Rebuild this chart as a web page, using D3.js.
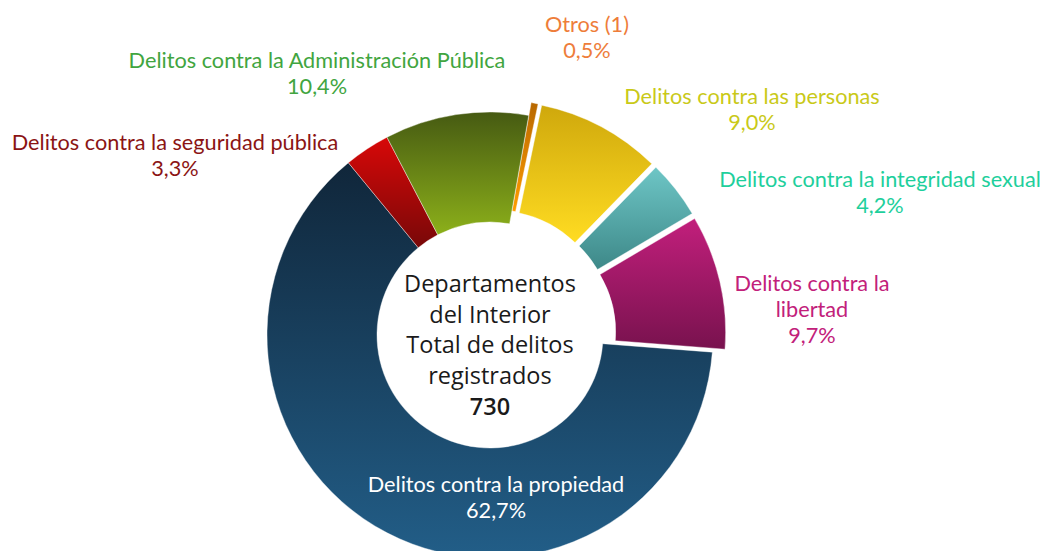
<!DOCTYPE html>
<html>
<head>
<meta charset="utf-8">
<script src="https://d3js.org/d3.v7.min.js"></script>
<style>
  body { margin: 0; background: #fff; }
  .lbl { font-family: Lato, "Noto Sans", sans-serif; font-size: 21.7px; text-anchor: middle; }
  .center { font-family: "Open Sans", "Noto Sans", sans-serif; font-size: 23.5px; text-anchor: middle; fill: #1a1a1a; }
</style>
</head>
<body>
<svg id="chart" width="1045" height="551"></svg>
<script>
// data
var categories = ["Otros (1)", "Delitos contra las personas", "Delitos contra la integridad sexual",
  "Delitos contra la libertad", "Delitos contra la propiedad", "Delitos contra la seguridad pública",
  "Delitos contra la Administración Pública"];
var percents = [0.5, 9.0, 4.2, 9.7, 62.7, 3.3, 10.4];
var total = 730;
var centerLines = ["Departamentos", "del Interior", "Total de delitos", "registrados"];

var svg = d3.select("#chart");
var cx = 490, cy = 335, rIn = 113, rOut = 223;
var startDeg = 10;

// gradient colours (top, bottom) per slice
var grad = [
  ["#b86800", "#ff9c00"],
  ["#cfa80c", "#ffdc22"],
  ["#6ec6c6", "#3d8888"],
  ["#c21f7c", "#78124e"],
  ["#10263a", "#225e88"],
  ["#d80808", "#780808"],
  ["#465a12", "#8cb01a"]
];
var labelColor = ["#ee7d3a", "#c9c918", "#1ecf9c", "#c2207a", "#ffffff", "#8b1414", "#41a540"];
var exploded = [true, true, true, true, false, false, false];

var defs = svg.append("defs");
grad.forEach(function(c, i) {
  var lg = defs.append("linearGradient").attr("id", "g" + i)
    .attr("x1", 0).attr("y1", 0).attr("x2", 0).attr("y2", 1);
  lg.append("stop").attr("offset", "0%").attr("stop-color", c[0]);
  lg.append("stop").attr("offset", "100%").attr("stop-color", c[1]);
});

var pie = d3.pie().sort(null)
  .startAngle(startDeg * Math.PI / 180)
  .endAngle(startDeg * Math.PI / 180 + 2 * Math.PI);
var arcs = pie(percents);
var arc = d3.arc().innerRadius(rIn).outerRadius(rOut);

var g = svg.append("g").attr("transform", "translate(" + cx + "," + cy + ")");

g.selectAll("path.slice")
  .data(arcs)
  .enter().append("path")
  .attr("class", "slice")
  .attr("d", arc)
  .attr("transform", function(d, i) {
    if (!exploded[i]) return null;
    var a = (d.startAngle + d.endAngle) / 2;
    return "translate(" + (Math.sin(a) * 13) + "," + (-Math.cos(a) * 13) + ")";
  })
  .attr("fill", function(d, i) { return "url(#g" + i + ")"; })
  .attr("stroke", "rgba(255,255,255,0.5)")
  .attr("stroke-width", 0.8);

// label positions (centre x, first baseline)
var labelPos = [
  [587, 32], [752, 104], [880, 187], [812, 291], [496, 492], [175, 150], [317, 68]
];
var labelLines = [
  ["Otros (1)"], ["Delitos contra las personas"], ["Delitos contra la integridad sexual"],
  ["Delitos contra la", "libertad"], ["Delitos contra la propiedad"],
  ["Delitos contra la seguridad pública"], ["Delitos contra la Administración Pública"]
];
var fmt = function(v) { return v.toFixed(1).replace(".", ",") + "%"; };

categories.forEach(function(c, i) {
  var t = svg.append("text").attr("class", "lbl")
    .attr("x", labelPos[i][0]).attr("y", labelPos[i][1])
    .attr("fill", labelColor[i]);
  var lines = labelLines[i].concat([fmt(percents[i])]);
  lines.forEach(function(l, j) {
    t.append("tspan").attr("x", labelPos[i][0]).attr("dy", j === 0 ? 0 : 26).text(l);
  });
});

var ct = svg.append("text").attr("class", "center").attr("x", cx).attr("y", 292);
centerLines.forEach(function(l, j) {
  ct.append("tspan").attr("x", cx).attr("dy", j === 0 ? 0 : 30.5).text(l);
});
ct.append("tspan").attr("x", cx).attr("dy", 31).attr("font-weight", 600).text(total);
</script>
</body>
</html>
